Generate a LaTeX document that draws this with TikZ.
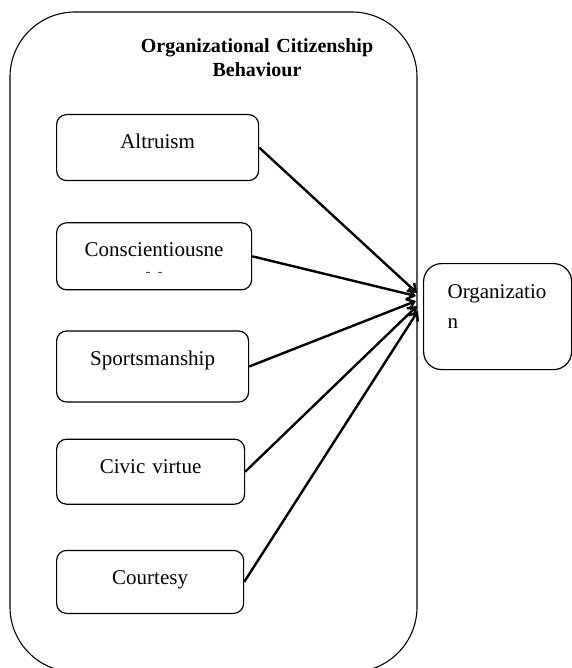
\documentclass[tikz,border=0pt]{standalone}
\usepackage{fontspec}
\setmainfont{Liberation Serif}
\usetikzlibrary{arrows.meta, positioning}

\begin{document}
\begin{tikzpicture}[
    x=1pt, y=-1pt,
    frame/.style={draw=black, line width=1.1pt, rounded corners=65pt},
    heading/.style={text width=260pt, align=center, inner sep=0pt, font=\fontsize{20}{24}\selectfont\bfseries},
    factor/.style={rectangle, rounded corners=10pt, draw=black, line width=1.2pt, inner sep=0pt, align=center, text height=34pt, font=\fontsize{21}{25}\selectfont},
    outcome/.style={rectangle, rounded corners=18pt, draw=black, line width=1.2pt, inner xsep=24pt, inner ysep=0pt, text width=100pt, align=left, text height=35pt, text depth=71pt, font=\fontsize{21}{30}\selectfont},
    arrow/.style={-{Straight Barb[length=7pt, width=11pt]}, line width=2.4pt}
]
    \useasboundingbox (0,0) rectangle (571,668);

    % Outer frame
    \draw[frame] (10,12) rectangle (417,672);
    \node[heading, anchor=base] (title) at (257,53) {Organizational Citizenship\\Behaviour};

    % Dimensions
    \node[factor, text width=202pt, text depth=32pt, anchor=north west] (altruism) at (56,114) {Altruism};
    \node[factor, text width=195pt, text depth=33pt, below=41pt of altruism.south west, anchor=north west] (consc) {Conscientiousne\\[-5pt]{\fontsize{15}{15}\selectfont\color{black!70}- -}};
    \node[factor, text width=192pt, text depth=37pt, below=40pt of consc.south west, anchor=north west] (sports) {Sportsmanship};
    \node[factor, text width=188pt, text depth=31pt, below=36pt of sports.south west, anchor=north west] (civic) {Civic virtue};
    \node[factor, text width=187pt, text depth=29pt, below=45pt of civic.south west, anchor=north west] (courtesy) {Courtesy};

    % Outcome
    \node[outcome, anchor=north west] (org) at (423,263) {Organizatio\\n};

    % Arrow tips on the frame
    \coordinate (tipA) at (417,293);
    \coordinate (tipB) at (416,296);
    \coordinate (tipC) at (416,301);
    \coordinate (tipD) at (417,306);
    \coordinate (tipE) at (418,311);

    % Arrows
    \draw[arrow] (altruism.east) -- (tipA);
    \draw[arrow] (consc.east) -- (tipB);
    \draw[arrow] (sports.east) -- (tipC);
    \draw[arrow] (civic.east) -- (tipD);
    \draw[arrow] (courtesy.east) -- (tipE);
\end{tikzpicture}
\end{document}
